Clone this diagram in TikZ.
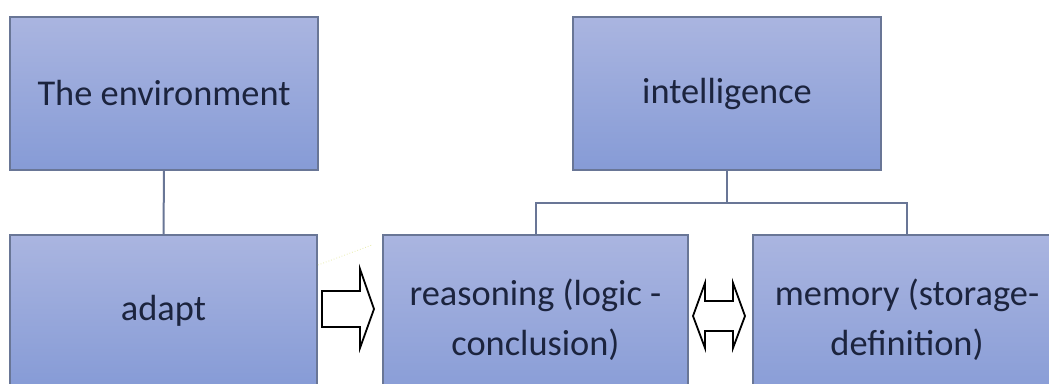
\documentclass[tikz,border=0pt]{standalone}
\usepackage{fontspec}
\setmainfont{Carlito}
\definecolor{boxtop}{RGB}{170,181,224}
\definecolor{boxbot}{RGB}{134,155,214}
\definecolor{boxline}{RGB}{105,118,150}
\definecolor{txt}{RGB}{28,36,62}
\definecolor{faint}{RGB}{232,236,170}
\tikzset{
  box/.style={draw=boxline, line width=1.4bp, top color=boxtop, bottom color=boxbot,
    text=txt, font=\fontsize{36.5}{50}\selectfont, align=center, inner sep=0pt,
    minimum height=153bp},
  link/.style={draw=boxline, line width=2bp},
  blockarrow/.style={draw=black, line width=1.8bp, fill=white, line join=miter}
}
\begin{document}
\begin{tikzpicture}[x=1bp,y=-1bp]
\useasboundingbox (0,0) rectangle (1049,383);
\clip (0,0) rectangle (1049,383);
\fill[white] (0,0) rectangle (1049,383);
\node[box, minimum width=308bp] (env) at (164,93.5) {The environment};
\node[box, minimum width=308bp] (intel) at (727,93.5) {intelligence};
\node[box, minimum width=307bp, minimum height=152bp] (adapt) at (163.5,311) {adapt};
\node[box, minimum width=305bp, minimum height=170bp] (reason) at (535.5,320) {reasoning (logic -\\conclusion)};
\node[box, minimum width=308bp, minimum height=170bp] (mem) at (907,320) {memory (storage-\\definition)};
\draw[link] (env.south) -- (adapt.north);
\draw[link] (intel.south) -- ++(0,32) coordinate (bus) -| (reason.north);
\draw[link] (bus) -| (mem.north);
\draw[faint, line width=0.8bp, dotted] (318,265) -- (372,245);
\draw[blockarrow] (322,291) -- (360,291) -- (360,269) -- (374,309) -- (360,348) -- (360,327) -- (322,327) -- cycle;
\draw[blockarrow] (693,316) -- (705,283) -- (705,301) -- (733,301) -- (733,283) -- (745,316) -- (733,348) -- (733,331) -- (705,331) -- (705,348) -- cycle;
\end{tikzpicture}
\end{document}
